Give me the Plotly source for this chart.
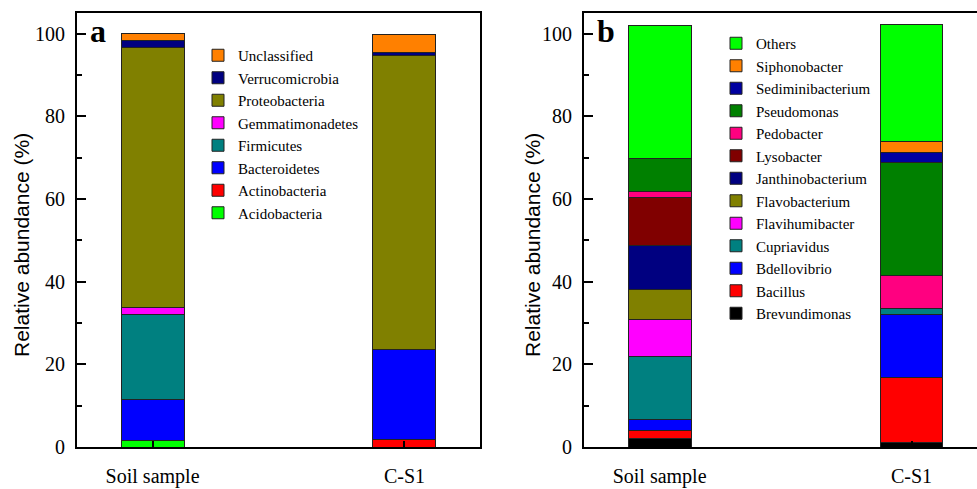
import plotly.graph_objects as go

samples = ["Soil sample", "C-S1"]

phyla = ["Acidobacteria", "Actinobacteria", "Bacteroidetes", "Firmicutes",
         "Gemmatimonadetes", "Proteobacteria", "Verrucomicrobia", "Unclassified"]
phyla_soil = [1.5, 0.0, 10.0, 20.6, 1.6, 63.0, 1.7, 1.6]
phyla_cs1 = [0.0, 1.9, 21.7, 0.0, 0.0, 71.1, 0.7, 4.5]
phyla_colors = ["#00FF00", "#FF0000", "#0000FF", "#008080",
                "#FF00FF", "#808000", "#000080", "#FF8000"]

genera = ["Brevundimonas", "Bacillus", "Bdellovibrio", "Cupriavidus",
          "Flavihumibacter", "Flavobacterium", "Janthinobacterium", "Lysobacter",
          "Pedobacter", "Pseudomonas", "Sediminibacterium", "Siphonobacter", "Others"]
genera_soil = [2.0, 2.0, 2.6, 15.3, 8.9, 7.3, 10.6, 11.7, 1.4, 7.9, 0.0, 0.0, 32.2]
genera_cs1 = [1.0, 15.9, 15.2, 1.4, 0.0, 0.0, 0.0, 0.0, 8.0, 27.3, 2.4, 2.7, 28.3]
genera_colors = ["#000000", "#FF0000", "#0000FF", "#008080",
                 "#FF00FF", "#808000", "#000080", "#800000",
                 "#FF0080", "#008000", "#0000A0", "#FF8000", "#00FF00"]

y_tickvals = [0, 20, 40, 60, 80, 100]
y_ticktext = ["0", "20", "40", "60", "80", "100"]

SERIF = "Liberation Serif, Times New Roman, serif"
SANS = "Liberation Sans, Arial, sans-serif"

fig = go.Figure()

for name, s, c, col in zip(phyla, phyla_soil, phyla_cs1, phyla_colors):
    fig.add_trace(go.Bar(
        x=samples, y=[s, c], name=name, width=0.25,
        marker=dict(color=col, line=dict(color="#222222", width=1)),
        xaxis="x", yaxis="y", legend="legend",
    ))

for name, s, c, col in zip(genera, genera_soil, genera_cs1, genera_colors):
    fig.add_trace(go.Bar(
        x=samples, y=[s, c], name=name, width=0.25,
        marker=dict(color=col, line=dict(color="#222222", width=1)),
        xaxis="x2", yaxis="y2", legend="legend2",
    ))

common_x = dict(
    type="category", showline=True, linewidth=2, linecolor="black",
    ticks="inside", ticklen=6, tickwidth=2, tickcolor="black",
    tickfont=dict(family=SERIF, size=20, color="black"),
    ticklabelstandoff=10, showgrid=False, zeroline=False, fixedrange=True,
    automargin=False,
)
common_y = dict(
    range=[0, 105], showline=True, linewidth=2, linecolor="black",
    tickmode="array", tickvals=y_tickvals, ticktext=y_ticktext,
    ticks="inside", ticklen=9, tickwidth=2, tickcolor="black",
    minor=dict(dtick=10, tick0=0, ticks="inside", ticklen=5, tickwidth=2, tickcolor="black"),
    tickfont=dict(family=SERIF, size=20, color="black"),
    ticklabelstandoff=6, showgrid=False, zeroline=False, fixedrange=True,
    automargin=False,
)

legend_common = dict(
    font=dict(family=SERIF, size=15, color="black"),
    bgcolor="rgba(0,0,0,0)", borderwidth=0, traceorder="reversed",
    xanchor="left", yanchor="top", itemclick=False, itemdoubleclick=False,
)

fig.update_layout(
    template="none",
    width=977, height=489,
    margin=dict(l=0, r=0, t=0, b=0, autoexpand=False),
    paper_bgcolor="white", plot_bgcolor="white",
    barmode="stack",
    showlegend=True,
    xaxis=dict(domain=[77/977, 480/977], range=[-0.3, 1.3], mirror=True, anchor="y", **common_x),
    yaxis=dict(domain=[42/489, 476/489], mirror=True, anchor="x", **common_y),
    xaxis2=dict(domain=[584/977, 1.0], range=[-0.3, 1.26], mirror=True, anchor="y2", **common_x),
    yaxis2=dict(domain=[42/489, 476/489], mirror=False, anchor="x2", **common_y),
    legend=dict(x=198/977, y=1 - 39/489, **legend_common),
    legend2=dict(x=716/977, y=1 - 27/489, **legend_common),
    annotations=[
        dict(text="<b>a</b>", x=98/977, y=1 - 31/489, xref="paper", yref="paper",
             xanchor="center", yanchor="middle",
             showarrow=False, font=dict(family=SERIF, size=32, color="black")),
        dict(text="<b>b</b>", x=606/977, y=1 - 31/489, xref="paper", yref="paper",
             xanchor="center", yanchor="middle",
             showarrow=False, font=dict(family=SERIF, size=32, color="black")),
        dict(text="Relative abundance (%)", x=21/977, y=1 - 245/489, xref="paper", yref="paper",
             xanchor="center", yanchor="middle",
             textangle=-90, showarrow=False, font=dict(family=SANS, size=21, color="black")),
        dict(text="Relative abundance (%)", x=532/977, y=1 - 245/489, xref="paper", yref="paper",
             xanchor="center", yanchor="middle",
             textangle=-90, showarrow=False, font=dict(family=SANS, size=21, color="black")),
    ],
)

fig.write_html("out.html")
